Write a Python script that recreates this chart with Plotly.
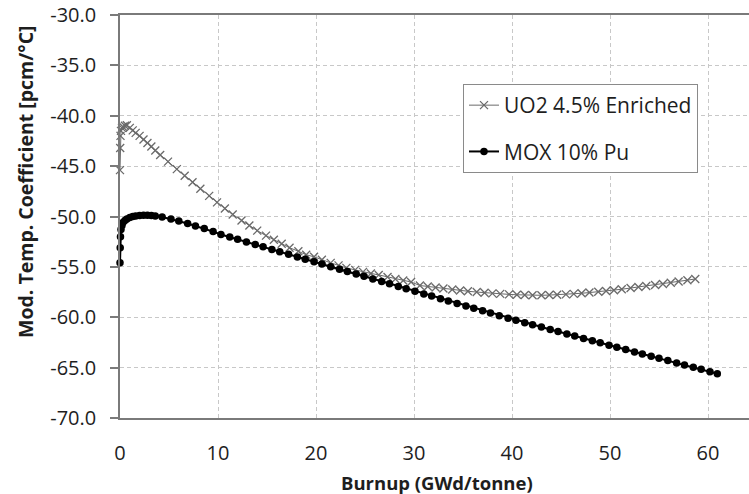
import plotly.graph_objects as go

# ---------------- data ----------------
uo2_burnup = [0, 0.02, 0.05, 0.1, 0.2, 0.3, 0.5, 0.7, 1.0, 1.3, 1.6, 2.0, 2.4, 2.8, 3.2, 3.6,
              4.1, 4.9, 5.8, 6.6, 7.4, 8.2, 9.1, 9.9, 10.7, 11.5, 12.4, 13.2, 14.0, 14.9, 15.7,
              16.5, 17.3, 18.2, 19.0, 19.8, 20.6, 21.5, 22.3, 23.1, 24.0, 24.8, 25.6, 26.4, 27.3,
              28.1, 28.9, 29.7, 30.6, 31.4, 32.2, 33.0, 33.9, 34.7, 35.5, 36.4, 37.2, 38.0, 38.8,
              39.7, 40.5, 41.3, 42.1, 43.0, 43.8, 44.6, 45.5, 46.3, 47.1, 47.9, 48.8, 49.6, 50.4,
              51.2, 52.1, 52.9, 53.7, 54.6, 55.4, 56.2, 57.0, 57.9, 58.7]
uo2_mtc = [-45.4, -43.2, -42.0, -41.5, -41.2, -41.1, -41.0, -40.95, -41.2, -41.45, -41.7, -42.0,
           -42.35, -42.7, -43.05, -43.45, -43.9, -44.55, -45.3, -45.95, -46.6, -47.25, -47.95,
           -48.6, -49.2, -49.8, -50.4, -50.9, -51.4, -51.9, -52.3, -52.7, -53.1, -53.45, -53.8,
           -54.0, -54.3, -54.6, -54.85, -55.1, -55.3, -55.5, -55.65, -55.8, -56.0, -56.2, -56.35,
           -56.5, -56.85, -56.95, -57.05, -57.15, -57.25, -57.35, -57.42, -57.5, -57.57, -57.63,
           -57.68, -57.73, -57.77, -57.8, -57.82, -57.82, -57.8, -57.77, -57.73, -57.68, -57.62,
           -57.55, -57.47, -57.4, -57.32, -57.22, -57.1, -57.0, -56.9, -56.8, -56.7, -56.58,
           -56.45, -56.32, -56.2]

mox_burnup = [0, 0.02, 0.05, 0.1, 0.2, 0.3, 0.5, 0.7, 1.0, 1.3, 1.6, 2.0, 2.4, 2.8, 3.2, 3.6,
              4.3, 5.2, 6.0, 6.9, 7.7, 8.6, 9.5, 10.3, 11.2, 12.0, 12.9, 13.8, 14.6, 15.5, 16.3,
              17.2, 18.1, 18.9, 19.8, 20.6, 21.5, 22.4, 23.2, 24.1, 24.9, 25.8, 26.7, 27.5, 28.4,
              29.2, 30.1, 31.0, 31.8, 32.7, 33.5, 34.4, 35.3, 36.1, 37.0, 37.8, 38.7, 39.6, 40.4,
              41.3, 42.1, 43.0, 43.9, 44.7, 45.6, 46.4, 47.3, 48.2, 49.0, 49.9, 50.7, 51.6, 52.5,
              53.3, 54.2, 55.0, 55.9, 56.8, 57.6, 58.5, 59.3, 60.2, 60.95]
mox_mtc = [-54.6, -53.1, -52.0, -51.3, -50.9, -50.6, -50.4, -50.25, -50.1, -50.0, -49.95, -49.9,
           -49.88, -49.88, -49.9, -49.95, -50.05, -50.25, -50.45, -50.7, -50.95, -51.2, -51.5,
           -51.79, -52.04, -52.27, -52.53, -52.78, -53.01, -53.27, -53.5, -53.75, -54.01, -54.24,
           -54.49, -54.72, -54.98, -55.23, -55.46, -55.71, -55.94, -56.2, -56.46, -56.68, -56.94,
           -57.17, -57.43, -57.68, -57.9, -58.16, -58.38, -58.63, -58.88, -59.11, -59.36, -59.58,
           -59.84, -60.09, -60.3, -60.54, -60.75, -60.98, -61.21, -61.42, -61.66, -61.86, -62.1,
           -62.33, -62.54, -62.77, -62.98, -63.21, -63.44, -63.64, -63.87, -64.08, -64.3, -64.53,
           -64.74, -64.97, -65.17, -65.4, -65.6]

series_names = ["UO2 4.5% Enriched", "MOX 10% Pu"]
y_tick_values = [-70, -65, -60, -55, -50, -45, -40, -35, -30]
y_tick_labels = ["-70.0", "-65.0", "-60.0", "-55.0", "-50.0", "-45.0", "-40.0", "-35.0", "-30.0"]
x_tick_values = [0, 10, 20, 30, 40, 50, 60]
x_title = "Burnup (GWd/tonne)"
y_title = "Mod. Temp. Coefficient [pcm/°C]"

FONT = "Open Sans"
TXT = "#1e1e1e"

fig = go.Figure()
fig.add_trace(go.Scatter(
    x=uo2_burnup, y=uo2_mtc, name=series_names[0], mode="lines+markers",
    line=dict(color="#6a6a6a", width=1),
    marker=dict(symbol="x-thin-open", size=8, line=dict(color="#555555", width=1.3)),
    cliponaxis=False, legendgroup="a"))
fig.add_trace(go.Scatter(
    x=mox_burnup, y=mox_mtc, name=series_names[1], mode="lines+markers",
    line=dict(color="#000000", width=2),
    marker=dict(symbol="circle", size=7.5, color="#000000"),
    cliponaxis=False, legendgroup="b"))

W, H = 749, 494
L, R, T, B = 120, 0, 15, 76
pw, ph = W - L - R, H - T - B

fig.update_layout(
    width=W, height=H,
    margin=dict(l=L, r=R, t=T, b=B, pad=0),
    paper_bgcolor="white", plot_bgcolor="white",
    font=dict(family=FONT, size=20, color=TXT),
    showlegend=True,
    legend=dict(x=(463 - L) / pw, y=(H - B - 84) / ph, xanchor="left", yanchor="top",
                bordercolor="#8a8a8a", borderwidth=1, bgcolor="white",
                font=dict(family=FONT, size=21, color=TXT),
                tracegroupgap=16, itemwidth=30),
    xaxis=dict(range=[0, (W - L) / 9.8], tickvals=x_tick_values, showgrid=True,
               gridcolor="#c8c8c8", griddash="4px,3px", gridwidth=1,
               showline=True, linecolor="#7a7a7a", linewidth=2, mirror=True,
               ticks="", ticklabelstandoff=16, zeroline=False,
               tickfont=dict(family=FONT, size=20, color=TXT)),
    yaxis=dict(range=[-70, -30], tickvals=y_tick_values, ticktext=y_tick_labels,
               showgrid=True, gridcolor="#c8c8c8", griddash="4px,3px", gridwidth=1,
               showline=True, linecolor="#7a7a7a", linewidth=1.5, mirror=False,
               ticks="outside", ticklen=8, tickcolor="#7a7a7a", tickwidth=1.5,
               ticklabelstandoff=10, zeroline=False,
               tickfont=dict(family=FONT, size=20, color=TXT)),
    annotations=[
        dict(text="<b>" + x_title + "</b>", xref="paper", yref="paper",
             x=(437 - L) / pw, y=-(482 - (H - B)) / ph, xanchor="center", yanchor="middle",
             showarrow=False, font=dict(family=FONT, size=18.5, color=TXT)),
        dict(text="<b>" + y_title + "</b>", xref="paper", yref="paper", textangle=-90,
             x=-(L - 25) / pw, y=((H - B) - 182) / ph, xanchor="center", yanchor="middle",
             showarrow=False, font=dict(family=FONT, size=19.5, color=TXT)),
    ],
)

fig.write_html("out.html")
